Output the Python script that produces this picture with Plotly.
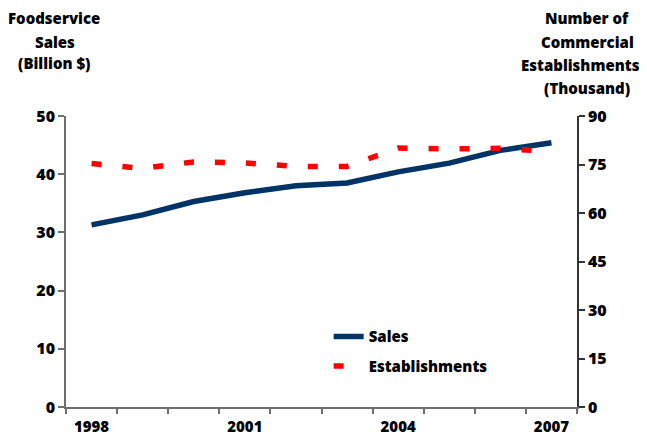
import plotly.graph_objects as go

years = [1998, 1999, 2000, 2001, 2002, 2003, 2004, 2005, 2006, 2007]
sales = [31.3, 33.0, 35.3, 36.8, 38.0, 38.5, 40.4, 41.9, 44.1, 45.4]
establishments = [75.3, 73.8, 75.8, 75.5, 74.4, 74.4, 80.1, 79.8, 80.0, 79.0]
year_ticks = [1998, 2001, 2004, 2007]
left_ticks = [0, 10, 20, 30, 40, 50]
right_ticks = [0, 15, 30, 45, 60, 75, 90]

FONT = "Open Sans"
WEIGHT = 800
AXIS_COLOR = "#6e6e6e"

fig = go.Figure()
fig.add_trace(go.Scatter(
    x=years, y=sales, name="Sales", mode="lines",
    line=dict(color="#003366", width=5.5), legendgroup="a"))
fig.add_trace(go.Scatter(
    x=years, y=establishments, name="Establishments", mode="lines",
    line=dict(color="#ff0000", width=5.5, dash="10px,21px"),
    yaxis="y2", legendgroup="b"))

# page body has an 8px margin, so the figure is sized to fit the window
fig.update_layout(
    width=639, height=430,
    margin=dict(l=58, r=70, t=108, b=31, autoexpand=False),
    paper_bgcolor="white", plot_bgcolor="white",
    font=dict(family=FONT, size=15, color="black", weight=WEIGHT),
    showlegend=True,
    legend=dict(x=0.514, y=0.298, xanchor="left", yanchor="top",
                bgcolor="rgba(0,0,0,0)", tracegroupgap=7,
                font=dict(family=FONT, size=15, color="black", weight=WEIGHT)),
    xaxis=dict(range=[1997.5, 2007.5], tickvals=year_ticks,
               ticktext=[str(y) for y in year_ticks], ticks="",
               ticklabelstandoff=5, automargin=False,
               showgrid=False, zeroline=False, showline=True,
               linecolor=AXIS_COLOR, linewidth=1.5,
               tickfont=dict(family=FONT, size=15, weight=WEIGHT),
               minor=dict(tickvals=[y - 0.5 for y in years] + [years[-1] + 0.5],
                          ticks="outside", ticklen=5, tickcolor=AXIS_COLOR,
                          tickwidth=1.5, showgrid=False)),
    yaxis=dict(range=[0, 50], tickvals=left_ticks, ticks="outside", ticklen=6,
               tickcolor=AXIS_COLOR, tickwidth=1.5, automargin=False,
               showgrid=False, zeroline=False, showline=True,
               linecolor=AXIS_COLOR, linewidth=1.5,
               tickfont=dict(family=FONT, size=16, weight=WEIGHT)),
    yaxis2=dict(range=[0, 90], tickvals=right_ticks, ticks="outside", ticklen=6,
                tickcolor="#333333", tickwidth=1.5, overlaying="y", side="right",
                automargin=False,
                showgrid=False, zeroline=False, showline=True,
                linecolor="#333333", linewidth=1.5,
                tickfont=dict(family=FONT, size=16, weight=WEIGHT)),
)

left_title = [("Foodservice", 54, 18), ("Sales", 55, 41.5), ("(Billion $)", 54, 63.5)]
right_title = [("Number of", 587, 18), ("Commercial", 587, 41.5),
               ("Establishments", 580, 65), ("(Thousand)", 587, 88)]
for text, px, py in left_title + right_title:
    fig.add_annotation(text=text, xref="paper", yref="paper",
                       x=(px - 66) / 511, y=(407 - py) / 291,
                       xanchor="center", yanchor="middle", showarrow=False,
                       font=dict(family=FONT, size=15, color="black", weight=WEIGHT))

fig.write_html("out.html")
